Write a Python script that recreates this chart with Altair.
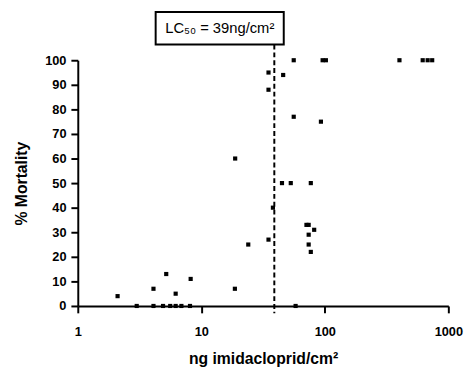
import altair as alt
import pandas as pd

# dose (ng imidacloprid/cm2) and % mortality
dose = [2.1, 4.1, 5.2, 6.2, 8.2,
        3.0, 4.1, 4.9, 5.6, 6.2, 6.9, 8.1, 58,
        18.7, 18.8, 24, 35, 38, 35, 35, 46, 45, 53, 77,
        56, 96, 102, 56, 93, 71, 74, 82, 74, 74, 77,
        402, 620, 680, 740]
mortality = [4, 7, 13, 5, 11,
             0, 0, 0, 0, 0, 0, 0, 0,
             7, 60, 25, 27, 40, 95, 88, 94, 50, 50, 50,
             100, 100, 100, 77, 75, 33, 33, 31, 29, 25, 22,
             100, 100, 100, 100]

lc50 = 39
lc50_label = "LC₅₀ = 39ng/cm²"
x_ticks = [1, 10, 100, 1000]
y_ticks = list(range(0, 101, 10))

df = pd.DataFrame({"dose": dose, "mortality": mortality})

FONT = "Liberation Sans"

xs = alt.Scale(type="log", domain=[1, 1000], nice=False)
ys = alt.Scale(domain=[0, 100], nice=False, zero=False)

xaxis = alt.Axis(values=x_ticks, format="d", title="ng imidacloprid/cm²",
                 labelFontSize=13, labelFontWeight="bold", labelPadding=13,
                 labelOverlap=False, labelFlush=False,
                 tickSize=7, tickWidth=2, domainWidth=2, tickColor="black",
                 domainColor="black", labelColor="black", grid=False,
                 titleFontSize=16, titleFontWeight="bold", titlePadding=13,
                 titleColor="black", labelFont=FONT, titleFont=FONT)
yaxis = alt.Axis(values=y_ticks, title="% Mortality",
                 labelFontSize=13, labelFontWeight="bold", labelPadding=5,
                 labelOverlap=False, labelFlush=False,
                 tickSize=7, tickWidth=2, domainWidth=2, tickColor="black",
                 domainColor="black", labelColor="black", grid=False,
                 titleFontSize=16, titleFontWeight="bold", titlePadding=15,
                 titleColor="black", labelFont=FONT, titleFont=FONT)

points = alt.Chart(df).mark_square(size=18, color="black", opacity=1, clip=False).encode(
    x=alt.X("dose:Q", scale=xs, axis=xaxis, title="ng imidacloprid/cm²"),
    y=alt.Y("mortality:Q", scale=ys, axis=yaxis, title="% Mortality"),
)

rule = alt.Chart(pd.DataFrame({"x": [lc50], "top": [106.4], "bot": [-3]})).mark_rule(
    color="black", strokeWidth=2, strokeDash=[5, 3], clip=False
).encode(
    x=alt.X("x:Q", scale=xs, axis=xaxis, title="ng imidacloprid/cm²"),
    y=alt.Y("top:Q", scale=ys, axis=yaxis, title="% Mortality"),
    y2="bot:Q",
)

box_df = pd.DataFrame({"x1": [4.27], "x2": [46.5], "y1": [119.6], "y2": [106.4],
                       "xm": [14.1], "ym": [113.0], "t": [lc50_label]})

box = alt.Chart(box_df).mark_rect(
    fill="white", stroke="black", strokeWidth=2, clip=False
).encode(
    x=alt.X("x1:Q", scale=xs, axis=xaxis, title="ng imidacloprid/cm²"),
    x2="x2:Q",
    y=alt.Y("y1:Q", scale=ys, axis=yaxis, title="% Mortality"),
    y2="y2:Q",
)

label = alt.Chart(box_df).mark_text(
    fontSize=15, font=FONT, color="black", align="center", baseline="middle", clip=False
).encode(
    x=alt.X("xm:Q", scale=xs, axis=xaxis, title="ng imidacloprid/cm²"),
    y=alt.Y("ym:Q", scale=ys, axis=yaxis, title="% Mortality"),
    text="t:N",
)

chart = alt.layer(points, rule, box, label).properties(
    width=377, height=250,
    padding={"left": 6, "top": 0, "right": 5, "bottom": 0},
).configure(
    background="white",
    view=alt.ViewConfig(strokeWidth=0),
    axis=alt.AxisConfig(labelOverlap=False),
)

chart.save("out.html", embed_options={"renderer": "svg", "actions": False})
